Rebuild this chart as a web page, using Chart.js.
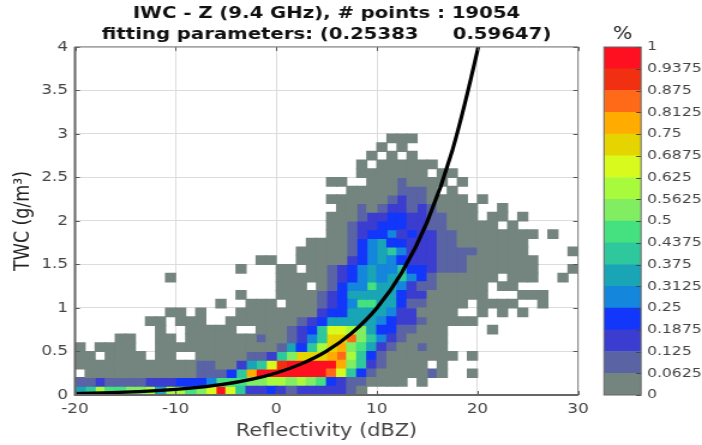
<!DOCTYPE html>
<html>
<head>
<meta charset="utf-8">
<title>IWC - Z</title>
<script src="https://cdn.jsdelivr.net/npm/chart.js@4"></script>
<style>
  html, body { margin: 0; padding: 0; background: #fff; overflow: hidden; }
  /* la figura original esta estirada a lo ancho */
  #wrap { position: relative; width: 585px; height: 445px; transform: scaleX(1.2); transform-origin: 0 0; }
  canvas { position: absolute; top: 0; filter: blur(0.3px); }
  #mapa { left: 0; }
  #barra { left: 490px; }
</style>
</head>
<body>
<div id="wrap">
  <canvas id="mapa" width="503" height="445"></canvas>
  <canvas id="barra" width="95" height="445"></canvas>
</div>
<script>
// Titulo y ejes
const tituloLineas = ["IWC - Z (9.4 GHz), # points : 19054", "fitting parameters: (0.25383     0.59647)"];
const etiquetaX = "Reflectivity (dBZ)";
const etiquetaY = "TWC (g/m³)";

// Celdas: primera columna = -20..-19 dBZ, primera fila = 0..0.1 g/m3
// Cada caracter es el nivel de color de la celda (0-f), "." = celda vacia
const anchoCelda = 1;
const altoCelda = 0.1;
const inicioX = -20;
const filas = [
  "5697788959 978afa6223 212222210. .......... ..........",
  "1121111222 3334777889 9898732110 000.0..... ..........",
  ".000000000 0011136cff fffffda631 0000010..0 ..........",
  "0000000000 001100256a efffffc862 10000.0... ..........",
  "00.0000.00 ..00000112 68bbbcd963 10000000.0 ..........",
  "0.0000..00 0000000000 15369bc875 2100100... ..........",
  "....00..00 .000000010 01246bbd86 4210000... ..........",
  "........0. .00000..00 01236aa985 3311000... .0........",
  ".......00. 000..00000 0012355555 4322100000 ..........",
  ".........0 0.0...0000 0000233555 54220000.. 0.0.0.....",
  ".......... ....0..000 .000123477 553110000. 0000..0...",
  ".......... ......0... 0000123555 5532200000 0...000...",
  ".......... .......... 000.013447 5542110000 0.00......",
  ".........0 .......... 0000012345 4564310000 00.000..0.",
  ".......... ......0... 00.0012345 4463321110 000000...0",
  ".......... ........00 ..00000234 5432221110 000000....",
  ".......... .......... ..00000134 5642221111 00000....0",
  ".......... .......... ...0000134 5332221100 00000.....",
  ".......... .......... .....00123 3423221100 000000.0..",
  ".......... .......... .....00122 3332211000 00.0......",
  ".......... .......... .....00012 2332211000 .00.0.....",
  ".......... .......... ......0010 1221210000 ..0.......",
  ".......... .......... .....00000 012110000. 0.........",
  ".......... .......... .......000 001110.0.. ..........",
  ".......... .......... .....00..0 0010000.0. ..........",
  ".......... .......... ........00 00000.00.. ..........",
  ".......... .......... ........0. 000000.... ..........",
  ".......... .......... .........0 .0.0...... ..........",
  ".......... .......... .......... 0.0....... ..........",
  ".......... .......... .......... .000...... .........."
];

// Colores de la barra, de 0 a 1 en pasos de 0.0625
const colores = [
  "#74857f", "#5a64a4", "#3b3cd0", "#1237fb", "#1486dc", "#19a5b5", "#2fc89c", "#45e080",
  "#80ee60", "#a8fb3c", "#d8fa1c", "#e5d400", "#ffab00", "#ff6a18", "#f03010", "#ff1020"
];
const pasoBarra = 0.0625;

// Curva de ajuste
const curvaZ = [-20, -15, -10, -7.5, -5, -2.5, 0, 2.5, 5, 7.5, 10, 12.5, 15, 17.5, 20, 20.2];
const curvaTwc = [0.016, 0.032, 0.064, 0.091, 0.128, 0.18, 0.254, 0.358, 0.504, 0.711, 1.0, 1.41, 1.99, 2.81, 3.96, 4.07];

Chart.defaults.font.family = "'DejaVu Sans'";
Chart.defaults.animation = false;

// Agrupar celdas por nivel: un dataset de barras flotantes por color
const datasetsCeldas = colores.map((color, nivel) => {
    const datos = [];
    filas.forEach((texto, r) => {
        const fila = texto.replace(/ /g, "");
        for (let c = 0; c < fila.length; c++) {
            if (parseInt(fila[c], 16) === nivel) {
                const base = r * altoCelda;
                // solape de un pixel para que no se vean costuras
                datos.push({ x: inicioX + c * anchoCelda + anchoCelda / 2, y: [base - 0.006, base + altoCelda + 0.006] });
            }
        }
    });
    return {
        type: 'bar',
        data: datos,
        backgroundColor: color,
        borderWidth: 0,
        grouped: false,
        barPercentage: 1.12,
        categoryPercentage: 1,
        order: 2
    };
});

// Marcas hacia dentro y marco del grafico
const marcoPlugin = {
    id: 'marco',
    afterDraw(chart) {
        const { ctx, chartArea: a, scales } = chart;
        ctx.save();
        ctx.strokeStyle = '#555';
        ctx.lineWidth = 1;
        scales.x.ticks.forEach(t => {
            const px = Math.round(scales.x.getPixelForValue(t.value)) + 0.5;
            ctx.beginPath();
            ctx.moveTo(px, a.bottom); ctx.lineTo(px, a.bottom - 4);
            ctx.moveTo(px, a.top); ctx.lineTo(px, a.top + 4);
            ctx.stroke();
        });
        scales.y.ticks.forEach(t => {
            const py = Math.round(scales.y.getPixelForValue(t.value)) + 0.5;
            ctx.beginPath();
            ctx.moveTo(a.left, py); ctx.lineTo(a.left + 4, py);
            ctx.moveTo(a.right, py); ctx.lineTo(a.right - 4, py);
            ctx.stroke();
        });
        ctx.strokeStyle = '#777';
        ctx.strokeRect(a.left, a.top, a.right - a.left, a.bottom - a.top);
        ctx.strokeStyle = '#666';
        ctx.lineWidth = 2;
        ctx.beginPath();
        ctx.moveTo(a.left, a.top); ctx.lineTo(a.left, a.bottom); ctx.lineTo(a.right, a.bottom);
        ctx.stroke();
        ctx.restore();
    }
};

new Chart(document.getElementById('mapa').getContext('2d'), {
    type: 'bar',
    data: {
        datasets: [
            {
                type: 'line',
                data: curvaZ.map((z, i) => ({ x: z, y: curvaTwc[i] })),
                borderColor: '#000',
                borderWidth: 3.2,
                pointRadius: 0,
                cubicInterpolationMode: 'monotone',
                order: 1
            },
            ...datasetsCeldas
        ]
    },
    options: {
        responsive: false,
        layout: { padding: { left: 0, right: 21.3, top: 0, bottom: 0 } },
        plugins: {
            legend: { display: false },
            tooltip: { enabled: false },
            title: {
                display: true,
                fullSize: false,
                text: tituloLineas,
                color: '#111',
                font: { size: 16.4, weight: 'bold', lineHeight: 1.28 },
                padding: { top: 3, bottom: 2 }
            }
        },
        scales: {
            x: {
                type: 'linear',
                min: -20,
                max: 30,
                offset: false,
                afterFit: s => { s.height = 50; },
                grid: { offset: false, color: '#dcdcdc', drawTicks: false, tickLength: 0 },
                border: { display: false },
                ticks: { stepSize: 10, color: '#444', padding: 6, font: { size: 14 }, maxRotation: 0 },
                title: { display: true, text: etiquetaX, color: '#444', font: { size: 17.4, lineHeight: 1.2 }, padding: { top: 0, bottom: 3 } }
            },
            y: {
                min: 0,
                max: 4,
                afterFit: s => { s.width = 62.5; },
                grid: { color: '#dcdcdc', drawTicks: false, tickLength: 0 },
                border: { display: false },
                ticks: { stepSize: 0.5, color: '#444', padding: 5.8, font: { size: 14 }, callback: v => String(v) },
                title: { display: true, text: etiquetaY, color: '#222', font: { size: 17.4, lineHeight: 1.2 }, padding: { top: 9, bottom: 0 } }
            }
        }
    },
    plugins: [marcoPlugin]
});

// Barra de color, con su propio eje a la derecha
const marcoBarra = {
    id: 'marcoBarra',
    afterDraw(chart) {
        const { ctx, chartArea: a, scales } = chart;
        ctx.save();
        ctx.strokeStyle = '#444';
        ctx.lineWidth = 1;
        scales.y.ticks.forEach(t => {
            const py = Math.round(scales.y.getPixelForValue(t.value)) + 0.5;
            ctx.beginPath();
            ctx.moveTo(a.right, py); ctx.lineTo(a.right - 4, py);
            ctx.stroke();
        });
        ctx.strokeStyle = '#666';
        ctx.strokeRect(a.left, a.top, a.right - a.left, a.bottom - a.top);
        ctx.restore();
    }
};

new Chart(document.getElementById('barra').getContext('2d'), {
    type: 'bar',
    data: {
        labels: ['%'],
        datasets: colores.map(color => ({
            data: [pasoBarra],
            backgroundColor: color,
            borderWidth: 0,
            barPercentage: 1,
            categoryPercentage: 1
        }))
    },
    options: {
        responsive: false,
        layout: { padding: { left: 13.3, right: 0, top: 0, bottom: 50 } },
        plugins: {
            legend: { display: false },
            tooltip: { enabled: false },
            title: {
                display: true,
                fullSize: false,
                text: '%',
                color: '#222',
                font: { size: 17, weight: 'normal', lineHeight: 1.2 },
                padding: { top: 24, bottom: 2.6 }
            }
        },
        scales: {
            x: { display: false, stacked: true },
            y: {
                position: 'right',
                stacked: true,
                min: 0,
                max: 1,
                afterFit: s => { s.width = 50.8; },
                grid: { display: false, drawTicks: false },
                border: { display: false },
                ticks: {
                    stepSize: pasoBarra,
                    autoSkip: false,
                    color: '#444',
                    padding: 5,
                    font: { size: 13 },
                    callback: v => String(+v.toFixed(4))
                }
            }
        }
    },
    plugins: [marcoBarra]
});
</script>
</body>
</html>
